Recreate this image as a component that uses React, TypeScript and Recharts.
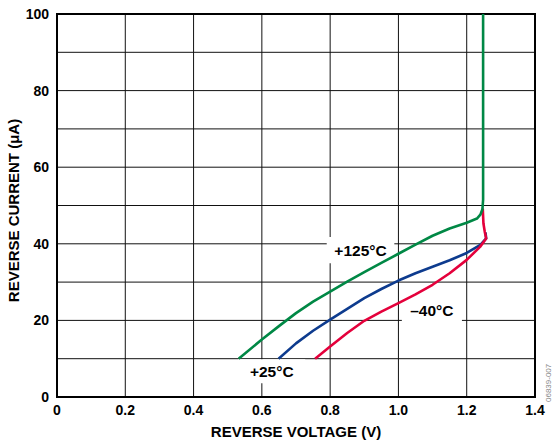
import React from 'react';
import {
  LineChart,
  Line,
  XAxis,
  YAxis,
  CartesianGrid,
  ReferenceArea,
} from 'recharts';

// reverse voltage (V) / reverse current (uA)
const hotVolts = [0.532, 0.6, 0.65, 0.7, 0.75, 0.8, 0.85, 0.9, 0.95, 1.0, 1.05, 1.1, 1.15, 1.2, 1.23, 1.24, 1.246, 1.248, 1.248];
const hotAmps = [10.0, 15.0, 18.5, 21.9, 24.9, 27.5, 30.1, 32.6, 35.0, 37.4, 39.8, 42.1, 44.0, 45.5, 46.6, 47.6, 49.0, 51.5, 100];

const roomVolts = [0.649, 0.7, 0.75, 0.8, 0.85, 0.9, 0.95, 1.0, 1.05, 1.1, 1.15, 1.2, 1.24, 1.257, 1.255];
const roomAmps = [10.0, 14.0, 17.3, 20.2, 23.0, 25.8, 28.2, 30.4, 32.3, 34.0, 35.7, 37.6, 39.7, 41.4, 43.0];

const coldVolts = [0.756, 0.8, 0.85, 0.9, 0.95, 1.0, 1.05, 1.1, 1.15, 1.2, 1.239, 1.257, 1.253, 1.249, 1.247];
const coldAmps = [10.0, 13.2, 16.7, 19.9, 22.3, 24.5, 26.8, 29.3, 32.3, 35.8, 39.2, 41.4, 43.1, 45.3, 49.2];

const xTicks = [0, 0.2, 0.4, 0.6, 0.8, 1.0, 1.2, 1.4];
const xTickLabels = ['0', '0.2', '0.4', '0.6', '0.8', '1.0', '1.2', '1.4'];
const yTicks = [0, 10, 20, 30, 40, 50, 60, 70, 80, 90, 100];
const yTickLabels = ['0', '', '20', '', '40', '', '60', '', '80', '', '100'];

// curve labels and the white box behind each (data units)
const curveLabels = [
  { text: '+125°C', x1: 0.79, x2: 0.988, y1: 34.9, y2: 41.8 },
  { text: '–40°C', x1: 1.01, x2: 1.186, y1: 19.3, y2: 26.0 },
  { text: '+25°C', x1: 0.531, x2: 0.727, y1: 3.6, y2: 9.85 },
];

const toPoints = (vs: number[], is: number[]) => vs.map((v, k) => ({ v, i: is[k] }));

const font = '"Liberation Sans", Arial, sans-serif';

export default function App() {
  const tickStyle = { fill: '#000', fontSize: 14, fontWeight: 'bold', fontFamily: font };
  const titleStyle = { fill: '#000', fontSize: 15, fontWeight: 'bold', fontFamily: font };

  return (
    <div style={{ position: 'absolute', left: 0, top: 0, width: 559, height: 443, background: '#fff' }}>
      <LineChart width={559} height={443} margin={{ top: 14, right: 24, bottom: 0, left: 0 }}>
        <CartesianGrid stroke="#111" strokeWidth={1} />
        <XAxis
          type="number"
          dataKey="v"
          domain={[0, 1.4]}
          ticks={xTicks}
          tickFormatter={(v: number) => xTickLabels[xTicks.indexOf(v)] ?? ''}
          tick={tickStyle}
          tickLine={false}
          axisLine={false}
          height={46}
          allowDataOverflow
          label={{ value: 'REVERSE VOLTAGE (V)', position: 'insideBottom', offset: 6, style: titleStyle }}
        />
        <YAxis
          type="number"
          dataKey="i"
          domain={[0, 100]}
          ticks={yTicks}
          tickFormatter={(v: number) => yTickLabels[yTicks.indexOf(v)] ?? ''}
          tick={tickStyle}
          tickLine={false}
          axisLine={false}
          width={57}
          allowDataOverflow
          label={{
            value: 'REVERSE CURRENT (μA)',
            angle: -90,
            position: 'insideLeft',
            offset: 14,
            dy: 5,
            style: { ...titleStyle, textAnchor: 'middle' },
          }}
        />
        {curveLabels.map((l) => (
          <ReferenceArea
            key={l.text}
            x1={l.x1}
            x2={l.x2}
            y1={l.y1}
            y2={l.y2}
            fill="#fff"
            fillOpacity={1}
            stroke="none"
            label={{ value: l.text, position: 'center', style: { ...titleStyle, fontSize: 15.5 } }}
          />
        ))}
        <Line
          data={toPoints(roomVolts, roomAmps)}
          dataKey="i"
          type="linear"
          stroke="#0d3b8e"
          strokeWidth={2.6}
          strokeLinejoin="round"
          dot={false}
          isAnimationActive={false}
        />
        <Line
          data={toPoints(coldVolts, coldAmps)}
          dataKey="i"
          type="linear"
          stroke="#e4003b"
          strokeWidth={2.6}
          strokeLinejoin="round"
          dot={false}
          isAnimationActive={false}
        />
        <Line
          data={toPoints(hotVolts, hotAmps)}
          dataKey="i"
          type="linear"
          stroke="#008845"
          strokeWidth={2.6}
          strokeLinejoin="round"
          dot={false}
          isAnimationActive={false}
        />
        <ReferenceArea x1={0} x2={1.4} y1={0} y2={100} fill="none" stroke="#000" strokeWidth={2} />
      </LineChart>
      <div
        style={{
          position: 'absolute',
          left: 544,
          top: 402,
          fontFamily: font,
          fontSize: 8,
          color: '#888',
          transform: 'rotate(-90deg)',
          transformOrigin: 'left top',
          whiteSpace: 'nowrap',
        }}
      >
        06839-007
      </div>
    </div>
  );
}
